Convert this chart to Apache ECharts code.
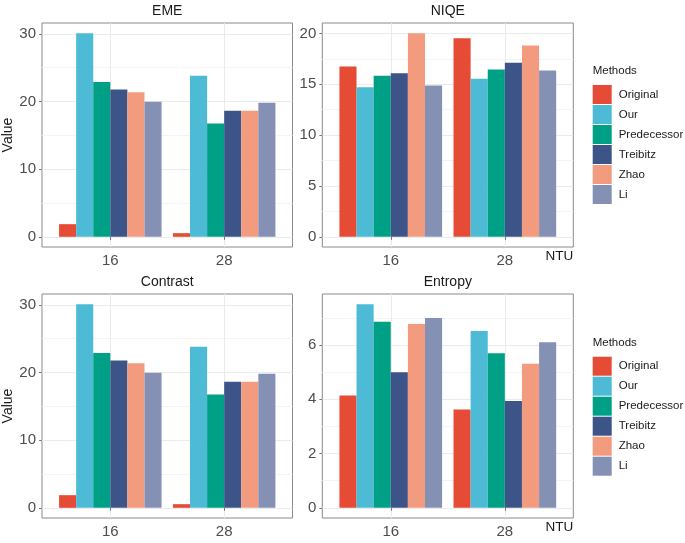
<!DOCTYPE html>
<html><head><meta charset="utf-8">
<script src="https://cdn.jsdelivr.net/npm/echarts@6/dist/echarts.min.js"></script>
<style>html,body{margin:0;padding:0;background:#fff}#c{width:685px;height:543px}</style>
</head><body><div id="c"></div>
<script>
// ---- data ----
const categories = ['16', '28'];
const methods = ['Original', 'Our', 'Predecessor', 'Treibitz', 'Zhao', 'Li'];
const colors = ['#E64B35', '#4DBBD5', '#00A087', '#3C5488', '#F39B7F', '#8491B4'];
const panelTitles = ['EME', 'NIQE', 'Contrast', 'Entropy'];
const xAxisTitle = 'NTU';

// values per method (order of `methods`) at NTU 16 and NTU 28
const eme16 = [1.87, 30.1, 22.9, 21.77, 21.38, 19.95];
const eme28 = [0.54, 23.8, 16.75, 18.62, 18.62, 19.8];
const niqe16 = [16.75, 14.72, 15.84, 16.1, 20.03, 14.89];
const niqe28 = [19.54, 15.54, 16.46, 17.11, 18.82, 16.36];
const contrast16 = [1.87, 30.1, 22.9, 21.77, 21.38, 19.95];
const contrast28 = [0.54, 23.8, 16.75, 18.62, 18.62, 19.8];
const entropy16 = [4.14, 7.51, 6.86, 5.0, 6.78, 7.0];
const entropy28 = [3.63, 6.52, 5.70, 3.94, 5.31, 6.11];

// tick labels
const emeTicks = [0, 10, 20, 30];
const emeMinor = [5, 15, 25];
const niqeTicks = [0, 5, 10, 15, 20];
const niqeMinor = [2.5, 7.5, 12.5, 17.5];
const contrastTicks = [0, 10, 20, 30];
const contrastMinor = [5, 15, 25];
const entropyTicks = [0, 2, 4, 6];
const entropyMinor = [1, 3, 5, 7];
const xTickPositions = [1, 2];

// ---- layout / style ----
const FONT = 'Liberation Sans, Arial, Helvetica, sans-serif';
const panels = [
  { v16: eme16, v28: eme28, ticks: emeTicks, minor: emeMinor },
  { v16: niqe16, v28: niqe28, ticks: niqeTicks, minor: niqeMinor },
  { v16: contrast16, v28: contrast28, ticks: contrastTicks, minor: contrastMinor },
  { v16: entropy16, v28: entropy28, ticks: entropyTicks, minor: entropyMinor }
];
const gridLefts = [42, 322.3];
const gridWidths = [250.5, 251];
const gridTops = [23, 294];
const gridH = 224;

const grid = [], xAxis = [], yAxis = [], series = [], graphic = [];
panels.forEach((p, i) => {
  const col = i % 2, row = Math.floor(i / 2);
  grid.push({ left: gridLefts[col], top: gridTops[row], width: gridWidths[col], height: gridH,
    show: true, borderColor: '#8a8a8a', borderWidth: 1, backgroundColor: '#fff' });
  const mx = Math.max(...p.v16, ...p.v28);
  const ymin = -0.05 * mx, ymax = 1.05 * mx;
  xAxis.push({
    type: 'value', gridIndex: i, min: 0.4, max: 2.6,
    axisLine: { show: false },
    axisTick: { show: true, customValues: xTickPositions, length: 3, lineStyle: { color: '#777' } },
    axisLabel: { customValues: xTickPositions, formatter: v => categories[Math.round(v) - 1],
      fontSize: 15, color: '#4d4d4d', margin: 6, fontFamily: FONT },
    splitLine: { show: true, lineStyle: { color: '#ebebeb', width: 1 } }
  });
  yAxis.push({
    type: 'value', gridIndex: i, min: ymin, max: ymax,
    axisLine: { show: false },
    axisTick: { show: true, customValues: p.ticks, length: 3, lineStyle: { color: '#777' } },
    axisLabel: { customValues: p.ticks, fontSize: 15, color: '#4d4d4d', margin: 6, fontFamily: FONT },
    splitLine: { show: true, lineStyle: { color: '#ebebeb', width: 1 } },
    name: col === 0 ? 'Value' : '', nameLocation: 'middle', nameGap: 23,
    nameTextStyle: { fontSize: 14, color: '#1a1a1a', fontFamily: FONT }
  });
  yAxis.push({
    type: 'value', gridIndex: i, min: ymin, max: ymax, position: 'left',
    axisLine: { show: false },
    axisTick: { show: false, customValues: p.minor },
    axisLabel: { show: false, customValues: p.minor },
    splitLine: { show: true, lineStyle: { color: '#f4f4f4', width: 1 } }
  });
  methods.forEach((m, k) => {
    series.push({
      type: 'bar', name: m, xAxisIndex: i, yAxisIndex: i * 2,
      data: [[xTickPositions[0], p.v16[k]], [xTickPositions[1], p.v28[k]]],
      barGap: '0%', barCategoryGap: '10%',
      itemStyle: { color: colors[k] },
      emphasis: { disabled: true }
    });
  });
  graphic.push({ type: 'text', x: gridLefts[col] + gridWidths[col] / 2, y: gridTops[row] - 19,
    style: { text: panelTitles[i], fontSize: 14, fill: '#1a1a1a', fontFamily: FONT, align: 'center', verticalAlign: 'top' } });
  if (col === 1) {
    graphic.push({ type: 'text', x: gridLefts[col] + gridWidths[col], y: gridTops[row] + gridH + 2,
      style: { text: xAxisTitle, fontSize: 13.5, fill: '#1a1a1a', fontFamily: FONT, align: 'right', verticalAlign: 'top' } });
  }
});

const legendTops = [85, 356.7];
const legend = legendTops.map(t => ({
  orient: 'vertical', left: 592.7, top: t, padding: 0,
  itemWidth: 19, itemHeight: 19, itemGap: 1, icon: 'rect',
  data: methods, selectedMode: false,
  textStyle: { fontSize: 11.5, color: '#1a1a1a', fontFamily: FONT, padding: [0, 0, 0, 2] }
}));
legendTops.forEach(t => graphic.push({ type: 'text', x: 592.7, y: t - 20,
  style: { text: 'Methods', fontSize: 11.5, fill: '#1a1a1a', fontFamily: FONT, align: 'left', verticalAlign: 'top' } }));

const chart = echarts.init(document.getElementById('c'), null, { renderer: 'canvas' });
chart.setOption({
  animation: false,
  backgroundColor: '#fff',
  textStyle: { fontFamily: FONT },
  grid, xAxis, yAxis, series, legend, graphic
});
</script></body></html>
